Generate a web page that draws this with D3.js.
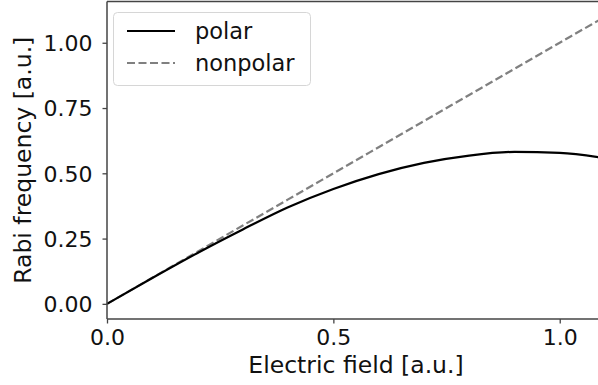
<!DOCTYPE html>
<html>
<head>
<meta charset="utf-8">
<script src="https://cdn.jsdelivr.net/npm/d3@7"></script>
<style>
  html, body { margin: 0; padding: 0; background: #fff; }
  svg { display: block; font-family: 'DejaVu Sans', sans-serif; }
</style>
</head>
<body>
<svg id="chart" width="598" height="385"></svg>
<script>
// values
const field = [0, 0.1, 0.2, 0.3, 0.4, 0.5, 0.6, 0.7, 0.8, 0.9, 1.0, 1.1]
const polar = [0, 0.099, 0.195, 0.285, 0.37, 0.44, 0.497, 0.54, 0.568, 0.582, 0.578, 0.558]
const nonpolar = [0, 0.1, 0.2, 0.3, 0.4, 0.5, 0.6, 0.7, 0.8, 0.9, 1.0, 1.1]
const xTicks = [0, 0.5, 1.0]
const yTicks = [0, 0.25, 0.5, 0.75, 1.0]
const seriesNames = ['polar', 'nonpolar']

const svg = d3.select('#chart')
const tickFont = 22
const labelFont = 23.5
const legendFont = 22.5
const axisColor = '#444'

let plot = { left: 107, right: 605, top: 1.5, bottom: 319 }

let x = d3.scaleLinear()
  .domain([0, 1.1])
  .range([plot.left, plot.right])

let y = d3.scaleLinear()
  .domain([-0.058, 1.158])
  .range([plot.bottom, plot.top])

// lines
let line = (vals) => d3.line()
    .x((d, i) => x(field[i]))
    .y((d) => y(d))
    .curve(d3.curveMonotoneX)(vals)

svg.append('path')
    .attr('d', line(nonpolar))
    .style('fill', 'none')
    .style('stroke', '#808080')
    .style('stroke-width', 2.2)
    .style('stroke-dasharray', '8,3.5')

svg.append('path')
    .attr('d', line(polar))
    .style('fill', 'none')
    .style('stroke', '#000')
    .style('stroke-width', 2.2)

// axes
let xAxis = svg.append('g')
    .attr('transform', `translate(0,${ plot.bottom })`)
    .call(d3.axisBottom(x).tickValues(xTicks).tickFormat(d3.format('.1f')).tickSize(4.5).tickPadding(6))

let yAxis = svg.append('g')
    .attr('transform', `translate(${ plot.left },0)`)
    .call(d3.axisLeft(y).tickValues(yTicks).tickFormat(d3.format('.2f')).tickSize(4.5).tickPadding(10))

for (let g of [xAxis, yAxis]) {
  g.select('.domain').remove()
  g.selectAll('line').style('stroke', axisColor).style('stroke-width', 1.3)
  g.selectAll('text')
    .style('font-family', "'DejaVu Sans', sans-serif")
    .style('font-size', tickFont + 'px')
    .style('fill', '#111')
}
yAxis.selectAll('text').attr('dy', '0.36em')

// spines
svg.append('line')
    .attr('x1', plot.left).attr('x2', plot.left)
    .attr('y1', plot.top).attr('y2', plot.bottom)
    .style('stroke', axisColor).style('stroke-width', 1.5)
svg.append('line')
    .attr('x1', plot.left).attr('x2', plot.right)
    .attr('y1', plot.bottom).attr('y2', plot.bottom)
    .style('stroke', axisColor).style('stroke-width', 1.5)
svg.append('line')
    .attr('x1', plot.left).attr('x2', plot.right)
    .attr('y1', plot.top).attr('y2', plot.top)
    .style('stroke', axisColor).style('stroke-width', 1.5)

// axis labels
svg.append('text')
    .attr('x', (plot.left + plot.right) / 2)
    .attr('y', 373)
    .attr('text-anchor', 'middle')
    .style('font-size', labelFont + 'px')
    .style('fill', '#111')
    .text('Electric field [a.u.]')

svg.append('text')
    .attr('transform', `translate(31,${ (plot.top + plot.bottom) / 2 }) rotate(-90)`)
    .attr('text-anchor', 'middle')
    .style('font-size', labelFont + 'px')
    .style('fill', '#111')
    .text('Rabi frequency [a.u.]')

// legend
let legend = svg.append('g')

legend.append('rect')
    .attr('x', 113.5).attr('y', 12.5)
    .attr('width', 197).attr('height', 73)
    .attr('rx', 4)
    .style('fill', '#fff')
    .style('fill-opacity', 0.8)
    .style('stroke', '#d6d6d6')
    .style('stroke-width', 1)

let legendItems = legend.selectAll('g.item')
  .data(seriesNames)
  .enter().append('g')
    .attr('class', 'item')
    .attr('transform', (d, i) => `translate(0,${ 31 + i * 32 })`)

legendItems.append('line')
    .attr('x1', 127).attr('x2', 175)
    .style('stroke', (d) => d === 'polar' ? '#000' : '#808080')
    .style('stroke-width', 2.2)
    .style('stroke-dasharray', (d) => d === 'polar' ? null : '8,3.5')

legendItems.append('text')
    .attr('x', 195)
    .attr('dy', '0.36em')
    .style('font-size', legendFont + 'px')
    .style('fill', '#111')
    .text((d) => d)
</script>
</body>
</html>
